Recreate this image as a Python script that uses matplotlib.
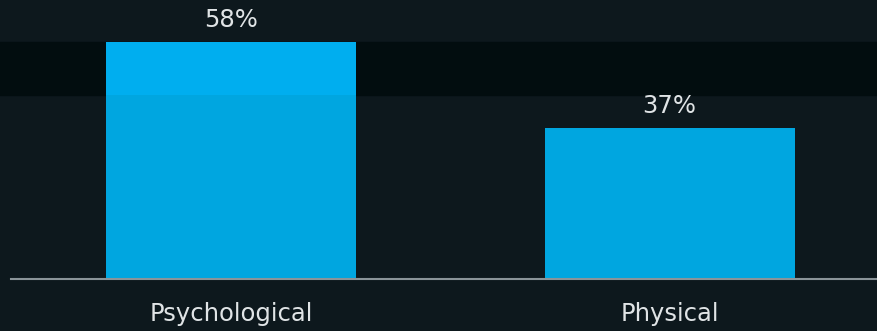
import matplotlib.pyplot as plt

categories = ["Psychological", "Physical"]
values = [58, 37]
band = (45, 58)  # darker highlight band, in value units

bg = "#0d181d"
bar_color = "#00a6e0"
bar_hi = "#00aeef"
text_color = "#e0e4e6"

fig = plt.figure(figsize=(8.78, 3.31), dpi=100, facecolor=bg)
ax = fig.add_axes([0.0125, 0.157, 0.9875, 0.84], facecolor=bg)

x = list(range(len(categories)))
# band runs across the whole figure, past the left edge of the axes
ax.axhspan(band[0], band[1], xmin=-0.02, xmax=1.0, color="#020d0f",
           zorder=0, clip_on=False)
bars = ax.bar(x, values, width=0.57, color=bar_color, zorder=2)

# brighter part of the bars inside the band
for xi, v in zip(x, values):
    if v > band[0]:
        ax.bar(xi, min(v, band[1]) - band[0], bottom=band[0], width=0.57,
               color=bar_hi, zorder=3)

for xi, v in zip(x, values):
    ax.annotate("%d%%" % v, (xi, v), xytext=(0, 7), textcoords="offset points",
                ha="center", va="bottom", color=text_color, fontsize=17.5)

ax.set_xlim(-0.502, 1.475)
ax.set_ylim(0, 68)
ax.set_xticks(x)
ax.set_xticklabels(categories, fontsize=17.5, color=text_color)
ax.tick_params(axis="x", length=0, pad=16.5)
ax.set_yticks([])

for s in ["top", "right", "left"]:
    ax.spines[s].set_visible(False)
ax.spines["bottom"].set_color("#8a9499")
ax.spines["bottom"].set_linewidth(1.5)

fig.savefig("out.png", dpi=100, facecolor=bg)
